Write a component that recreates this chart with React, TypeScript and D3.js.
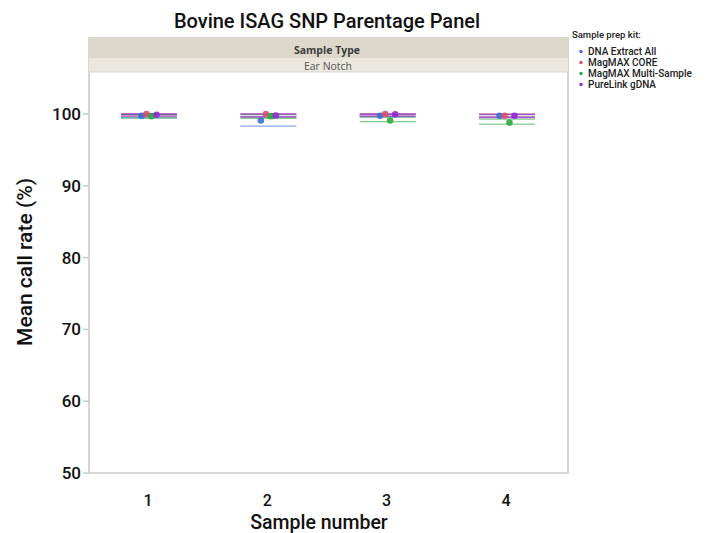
import React from "react";
import * as d3 from "d3";

const samples = ["1", "2", "3", "4"];
const kits = ["DNA Extract All", "MagMAX CORE", "MagMAX Multi-Sample", "PureLink gDNA"];
const kitColors = ["#3a6fd8", "#d9506e", "#2faa3f", "#8e2ad8"];
const yTicks = [50, 60, 70, 80, 90, 100];

// mean values per kit per sample
const meanDNA = [99.75, 99.1, 99.75, 99.75];
const meanCORE = [100.0, 100.0, 100.0, 99.75];
const meanMulti = [99.7, 99.7, 99.1, 98.8];
const meanPure = [99.9, 99.8, 99.95, 99.75];
// lower / upper range lines
const loDNA = [99.45, 98.3, 99.6, 99.6];
const hiDNA = [99.95, 99.6, 99.95, 99.95];
const loCORE = [99.7, 99.6, 99.7, 99.6];
const hiCORE = [100.0, 100.0, 100.0, 100.0];
const loMulti = [99.45, 99.4, 98.95, 98.6];
const hiMulti = [99.9, 99.9, 99.6, 99.3];
const loPure = [99.7, 99.6, 99.7, 99.5];
const hiPure = [100.0, 100.0, 100.0, 99.9];

const means = [meanDNA, meanCORE, meanMulti, meanPure];
const los = [loDNA, loCORE, loMulti, loPure];
const his = [hiDNA, hiCORE, hiMulti, hiPure];

const W = 715;
const H = 533;
const frameL = 89;
const frameR = 568;
const frameT = 38;
const plotB = 473;

export default function App() {
  const y = d3.scaleLinear().domain([50, 100]).range([plotB, 114]);
  const x = d3.scalePoint().domain(samples).range([148, 506]);
  const off = d3.scalePoint().domain(kits).range([-7.5, 7.5]);
  const font = "Roboto, 'Liberation Sans', Arial, sans-serif";
  const stripFont = "'Open Sans', 'DejaVu Sans', sans-serif";
  return (
    <svg width={W} height={H} style={{ position: "absolute", left: 0, top: 0 }} fontFamily={font}>
      <rect width={W} height={H} fill="#fff" />
      <text x={327} y={28} textAnchor="middle" fontSize={20} fontWeight={500} fill="#111">
        Bovine ISAG SNP Parentage Panel
      </text>
      {/* frame */}
      <rect x={frameL} y={frameT} width={frameR - frameL} height={plotB - frameT} fill="#fff" stroke="#d6d6d6" strokeWidth={2} />
      <rect x={frameL} y={frameT} width={frameR - frameL} height={20} fill="#dcd9cc" />
      <rect x={frameL} y={frameT + 20} width={frameR - frameL} height={14} fill="#e9e7de" />
      <line x1={frameL} x2={frameR} y1={frameT + 34} y2={frameT + 34} stroke="#d6d6d6" />
      <text x={327} y={50} dy="0.35em" textAnchor="middle" fontSize={10.5} fontWeight="bold" fill="#3c3c3c" fontFamily={stripFont}>
        Sample Type
      </text>
      <text x={328} y={66} dy="0.35em" textAnchor="middle" fontSize={10.5} fill="#555" fontFamily={stripFont}>
        Ear Notch
      </text>
      {/* y axis */}
      {yTicks.map((t) => (
        <g key={t}>
          <line x1={83} x2={frameL} y1={y(t)} y2={y(t)} stroke="#c8c8c8" strokeWidth={1.5} />
          <text x={81} y={y(t)} dy="0.35em" textAnchor="end" fontSize={17} fontWeight={500} fill="#111">
            {t}
          </text>
        </g>
      ))}
      <text transform={`translate(25,262) rotate(-90)`} textAnchor="middle" dy="0.35em" fontSize={21} fontWeight={500} fill="#111">
        Mean call rate (%)
      </text>
      {/* x axis */}
      {samples.map((s) => (
        <text key={s} x={x(s)} y={506} textAnchor="middle" fontSize={16} fontWeight={500} fill="#111">
          {s}
        </text>
      ))}
      <text x={319} y={529} textAnchor="middle" fontSize={19.5} fontWeight={500} fill="#111">
        Sample number
      </text>
      {/* data */}
      {samples.map((s, si) => (
        <g key={s}>
          {kits.map((k, ki) => (
            <g key={k}>
              <line x1={x(s)! - 27} x2={x(s)! + 29} y1={y(his[ki][si])} y2={y(his[ki][si])} stroke={kitColors[ki]} strokeWidth={1.3} opacity={0.6} />
              <line x1={x(s)! - 27} x2={x(s)! + 29} y1={y(los[ki][si])} y2={y(los[ki][si])} stroke={kitColors[ki]} strokeWidth={1.3} opacity={0.6} />
            </g>
          ))}
          {kits.map((k, ki) => (
            <circle key={k} cx={x(s)! + 1 + off(k)!} cy={y(means[ki][si])} r={3.3} fill={kitColors[ki]} opacity={0.9} />
          ))}
        </g>
      ))}
      {/* legend */}
      <text x={572} y={35} dy="0.35em" fontSize={9.5} fontWeight={500} fill="#222">
        Sample prep kit:
      </text>
      {kits.map((k, i) => (
        <g key={k} transform={`translate(0,${51.5 + i * 11})`}>
          <circle cx={581} cy={0} r={1.7} fill={kitColors[i]} />
          <text x={588} y={0} dy="0.35em" fontSize={10} fontWeight={500} fill="#222">
            {k}
          </text>
        </g>
      ))}
    </svg>
  );
}
